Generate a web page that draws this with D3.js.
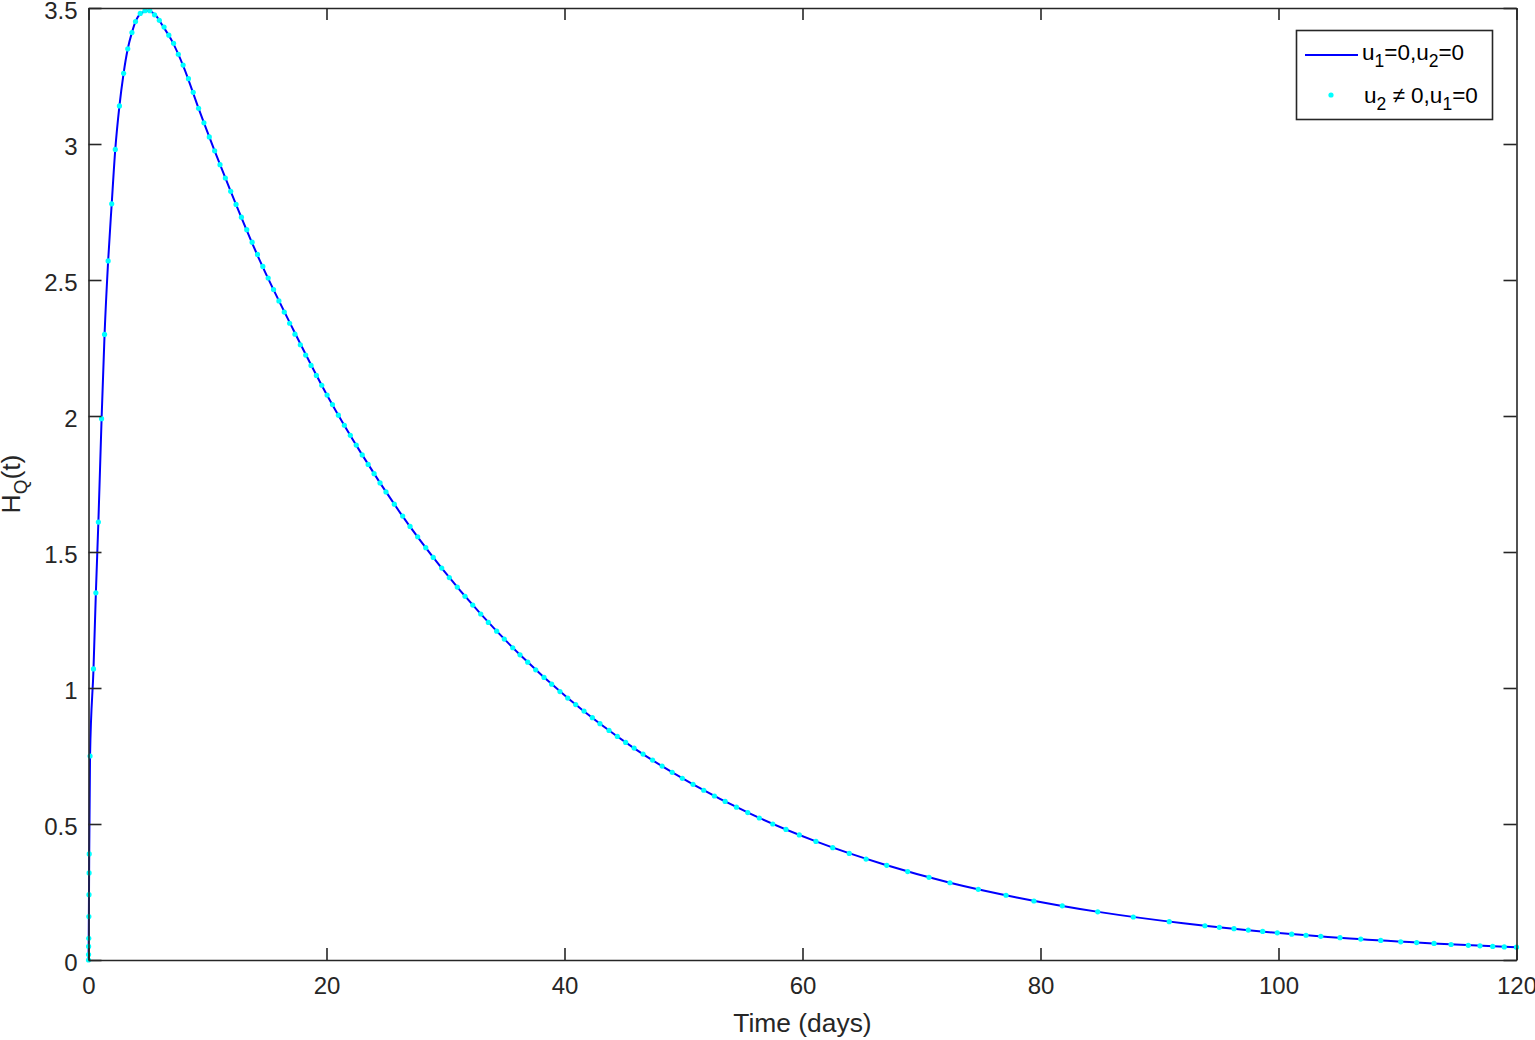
<!DOCTYPE html>
<html>
<head>
<meta charset="utf-8">
<script src="https://cdn.jsdelivr.net/npm/d3@7"></script>
<style>
  html, body { margin: 0; padding: 0; background: #ffffff; }
  svg { display: block; font-family: "Liberation Sans", Arial, sans-serif; }
</style>
</head>
<body>
<svg id="chart" width="1535" height="1040"></svg>
<script>
// ---------------- data ----------------
const xTicks = [0, 20, 40, 60, 80, 100, 120];
const yTicks = [0, 0.5, 1, 1.5, 2, 2.5, 3, 3.5];
const xLabel = "Time (days)";

// series 1: u1=0,u2=0 (solid blue line)
const lineT = [0, 0.02, 0.06, 0.13, 0.42, 0.62, 0.83, 1.1, 1.35, 1.65, 1.95, 2.25, 2.6, 2.95, 3.3, 3.65, 3.95,
  4.4, 5.0, 5.6, 6.3, 7.0, 8.0, 9.25, 10.6, 11.95, 14.41, 17.18, 20.13, 23, 26.18, 29.68, 32.9, 36.26, 40.27,
  45.8, 50.8, 55.6, 61.13, 66.8, 72.39, 78, 85, 92, 99, 106, 113, 120];
const lineH = [0, 0.08, 0.39, 0.75, 1.07, 1.35, 1.61, 1.99, 2.30, 2.57, 2.78, 2.98, 3.14, 3.26, 3.35, 3.41, 3.45,
  3.48, 3.49, 3.475, 3.43, 3.38, 3.283, 3.131, 2.975, 2.826, 2.57, 2.32, 2.07, 1.857, 1.645, 1.441, 1.275, 1.122, 0.963,
  0.78, 0.646, 0.538, 0.436, 0.352, 0.284, 0.23, 0.176, 0.135, 0.103, 0.079, 0.061, 0.047];

// series 2: u2 != 0,u1=0 (cyan dots)
const dotT = [0, 0.005, 0.01, 0.02, 0.03, 0.04, 0.05, 0.06, 0.13, 0.42, 0.62, 0.83, 1.1, 1.35, 1.65, 1.95, 2.25,
  2.6, 2.95, 3.3, 3.65, 3.95, 4.35, 4.75, 5.15, 5.55, 5.95, 6.35, 6.75, 7.15, 7.55, 7.95, 8.4, 8.8,
  9.25, 9.7, 10.15, 10.6, 11.05, 11.5, 11.95, 12.4, 12.85, 13.3, 13.75, 14.2, 14.65, 15.1, 15.55, 16.0,
  16.45, 16.9, 17.35, 17.8, 18.25, 18.7, 19.15, 19.6, 20.05, 20.5, 21.0, 21.5, 22.0, 22.5, 23.0, 23.5,
  24.0, 24.5, 25.0, 25.7, 26.4, 27.02, 27.66, 28.34, 28.97, 29.68, 30.32, 30.99, 31.64, 32.29, 32.96,
  33.60, 34.30, 34.94, 35.65, 36.26, 36.91, 37.58, 38.28, 38.92, 39.62, 40.27, 40.94, 41.64, 42.34,
  42.98, 43.74, 44.44, 45.14, 45.85, 46.6, 47.4, 48.2, 49.05, 49.9, 50.8, 51.7, 52.6, 53.5, 54.45, 55.4,
  56.37, 57.50, 58.61, 59.73, 61.13, 62.54, 63.93, 65.34, 67.08, 68.84, 70.63, 72.39, 74.77, 77.10,
  79.45, 81.83, 84.81, 87.80, 90.82, 93.82, 95.03, 96.26, 97.46, 98.67, 99.90, 101.11, 102.31, 103.55,
  105.17, 106.91, 108.59, 110.27, 111.61, 113.07, 114.50, 115.95, 116.93, 118.0, 118.97, 120.0];
const dotH = [0, 0.02, 0.05, 0.08, 0.16, 0.24, 0.32, 0.39, 0.75, 1.07, 1.35, 1.61, 1.99, 2.30, 2.57, 2.78, 2.98,
  3.14, 3.26, 3.35, 3.41, 3.45, 3.48, 3.49, 3.49, 3.475, 3.455, 3.43, 3.40, 3.37, 3.33, 3.29, 3.24, 3.19,
  3.131, 3.078, 3.026, 2.975, 2.924, 2.875, 2.826, 2.778, 2.731, 2.685, 2.639, 2.594, 2.550, 2.507, 2.465, 2.423,
  2.382, 2.341, 2.301, 2.262, 2.224, 2.186, 2.149, 2.113, 2.077, 2.042, 2.003, 1.966, 1.929, 1.893, 1.857, 1.822,
  1.788, 1.754, 1.721, 1.676, 1.632, 1.594, 1.556, 1.516, 1.480, 1.441, 1.406, 1.371, 1.337, 1.305, 1.272,
  1.241, 1.209, 1.180, 1.148, 1.122, 1.095, 1.067, 1.039, 1.014, 0.987, 0.963, 0.939, 0.915, 0.891,
  0.869, 0.844, 0.822, 0.800, 0.779, 0.757, 0.735, 0.713, 0.690, 0.668, 0.646, 0.624, 0.603, 0.583, 0.562, 0.542,
  0.522, 0.500, 0.480, 0.460, 0.436, 0.413, 0.392, 0.371, 0.348, 0.325, 0.304, 0.284, 0.260, 0.238,
  0.217, 0.199, 0.177, 0.158, 0.141, 0.126, 0.120, 0.115, 0.110, 0.105, 0.100, 0.095, 0.091, 0.087,
  0.082, 0.077, 0.072, 0.067, 0.064, 0.061, 0.057, 0.054, 0.052, 0.050, 0.048, 0.047];

// ---------------- layout ----------------
const svg = d3.select("#chart");
const pLeft = 88.5, pRight = 1516.5, pTop = 8, pBottom = 960;
const axisColor = "#262626";

const x = d3.scaleLinear().domain([0, 120]).range([pLeft, pRight]);
const y = d3.scaleLinear().domain([0, 3.5]).range([pBottom, pTop]);

// line series
const lineData = lineT.map((t, i) => [t, lineH[i]]);
const line = d3.line().x(d => x(d[0])).y(d => y(d[1])).curve(d3.curveMonotoneX);
const plot = svg.append("g");
plot.append("path").datum(lineData).attr("d", line)
  .attr("fill", "none").attr("stroke", "rgb(0,0,255)").attr("stroke-width", 2);

// dot series
const dotData = dotT.map((t, i) => [t, dotH[i]]);
plot.selectAll("circle.dot").data(dotData).enter().append("circle")
  .attr("class", "dot")
  .attr("cx", d => x(d[0])).attr("cy", d => y(d[1])).attr("r", 2.6)
  .attr("fill", "rgb(0,255,255)");

// axes (MATLAB box style, ticks inside on all sides)
function styleAxis(g) {
  g.select(".domain").attr("stroke", axisColor).attr("stroke-width", 1.6);
  g.selectAll(".tick line").attr("stroke", axisColor).attr("stroke-width", 1.6);
  g.selectAll(".tick text").attr("fill", axisColor).style("font-size", "24px")
    .style("font-family", '"Liberation Sans", Arial, sans-serif');
}
const fmt = d => String(d);

svg.append("g").attr("transform", `translate(0,${pBottom})`)
  .call(d3.axisBottom(x).tickValues(xTicks).tickFormat(fmt).tickSizeInner(-12).tickSizeOuter(0).tickPadding(17))
  .call(styleAxis);
svg.append("g").attr("transform", `translate(0,${pTop})`)
  .call(d3.axisTop(x).tickValues(xTicks).tickFormat("").tickSizeInner(-12).tickSizeOuter(0))
  .call(styleAxis);
const yAxisG = svg.append("g").attr("transform", `translate(${pLeft},0)`)
  .call(d3.axisLeft(y).tickValues(yTicks).tickFormat(fmt).tickSizeInner(-13).tickSizeOuter(0).tickPadding(11))
  .call(styleAxis);
yAxisG.selectAll(".tick text").attr("dy", "0.42em");
svg.append("g").attr("transform", `translate(${pRight},0)`)
  .call(d3.axisRight(y).tickValues(yTicks).tickFormat("").tickSizeInner(-13).tickSizeOuter(0))
  .call(styleAxis);

// x label
svg.append("text").attr("x", (pLeft + pRight) / 2).attr("y", 1032)
  .attr("text-anchor", "middle").attr("fill", axisColor).style("font-size", "26.4px")
  .text(xLabel);

// y label H_Q(t)
const yl = svg.append("text")
  .attr("transform", `translate(20,${(pTop + pBottom) / 2}) rotate(-90)`)
  .attr("text-anchor", "middle").attr("fill", axisColor).style("font-size", "26.4px");
yl.append("tspan").text("H");
yl.append("tspan").attr("dy", 7).style("font-size", "19px").text("Q");
yl.append("tspan").attr("dy", -7).text("(t)");

// legend
const lg = svg.append("g");
lg.append("rect").attr("x", 1296.5).attr("y", 30.5).attr("width", 196).attr("height", 89)
  .attr("fill", "#fff").attr("stroke", axisColor).attr("stroke-width", 1.6);
lg.append("line").attr("x1", 1305).attr("x2", 1358).attr("y1", 55).attr("y2", 55)
  .attr("stroke", "rgb(0,0,255)").attr("stroke-width", 2);
lg.append("circle").attr("cx", 1331).attr("cy", 95).attr("r", 2.6).attr("fill", "rgb(0,255,255)");

const legFs = 22.5, subFs = 17.5;
const t1 = lg.append("text").attr("x", 1362).attr("y", 60).attr("fill", "#000").style("font-size", legFs + "px");
t1.append("tspan").text("u");
t1.append("tspan").attr("dy", 7).style("font-size", subFs + "px").text("1");
t1.append("tspan").attr("dy", -7).text("=0,u");
t1.append("tspan").attr("dy", 7).style("font-size", subFs + "px").text("2");
t1.append("tspan").attr("dy", -7).text("=0");

const t2 = lg.append("text").attr("x", 1364).attr("y", 103).attr("fill", "#000").style("font-size", legFs + "px");
t2.append("tspan").text("u");
t2.append("tspan").attr("dy", 7).style("font-size", subFs + "px").text("2");
t2.append("tspan").attr("dy", -7).text(" \u2260 0,u");
t2.append("tspan").attr("dy", 7).style("font-size", subFs + "px").text("1");
t2.append("tspan").attr("dy", -7).text("=0");
</script>
</body>
</html>
